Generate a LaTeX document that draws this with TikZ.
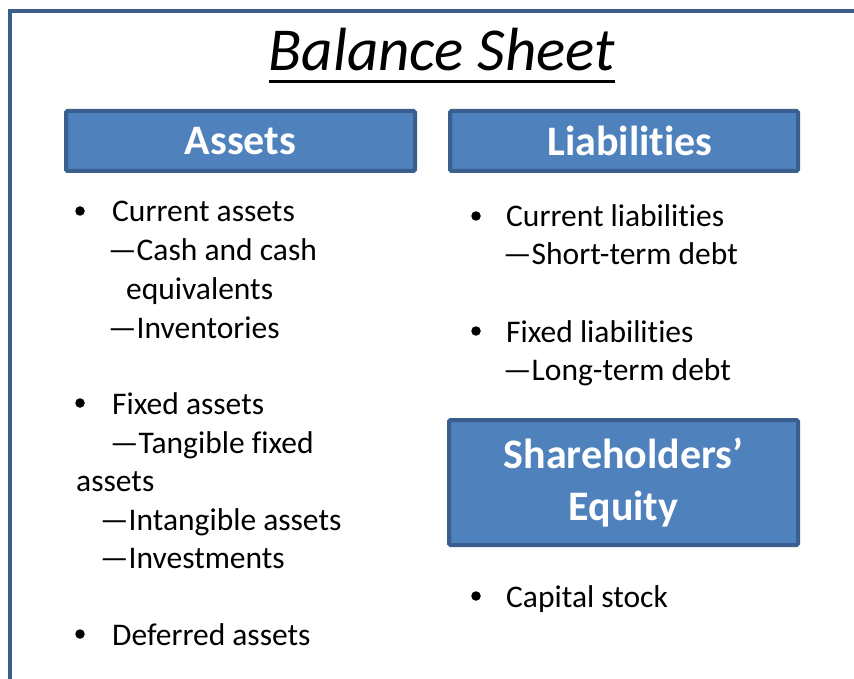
\documentclass[tikz,border=0pt]{standalone}
\usepackage{fontspec}
\setmainfont[Ligatures=NoCommon]{Carlito}
\usetikzlibrary{calc}
\definecolor{framecol}{HTML}{3B5E8C}
\definecolor{boxfill}{HTML}{4F81BD}
\definecolor{boxline}{HTML}{3A5F8F}
\tikzset{
  headbox/.style={draw=boxline, fill=boxfill, line width=4pt, rounded corners=1.5pt,
    text=white, font=\fontsize{42}{52}\selectfont\bfseries, inner sep=0pt, align=center},
  itemtext/.style={anchor=base west, inner sep=0pt, font=\fontsize{31.5}{38}\selectfont},
  bulletdot/.style={circle, fill=black, inner sep=0pt, minimum size=9.5pt},
}

\begin{document}
\begin{tikzpicture}[x=1pt, y=-1pt]
		%%%%% START %%%%%
		\useasboundingbox (0, 0) rectangle (854, 679);
		\clip (0, 0) rectangle (854, 679);
		
		\draw[framecol, line width=4pt] (10, 11) rectangle (900, 700);
		
		\node[anchor=base, inner xsep=0pt, font=\fontsize{61}{64}\selectfont\itshape] (title) at (442, 71) {Balance Sheet};
		\draw[line width=3pt] ([yshift=-11pt]title.base west) -- ([yshift=-11pt]title.base east);
		
		\node[headbox, minimum width=349pt, minimum height=60pt] (assets) at (240.5, 141) {Assets};
		\node[headbox, minimum width=348pt, minimum height=60pt] (liab) at (624, 141) {\hspace*{12pt}Liabilities};
		\node[headbox, minimum width=349pt, minimum height=125pt] (equity) at (623.5, 482.5) {Shareholders’\\Equity};
		
		% assets column
		\node[bulletdot] (b1) at (80, 211) {};
		\node[itemtext] (ca) at (112, 222) {Current assets};
		\node[itemtext] (cash) at (108, 261) {—Cash and cash};
		\node[itemtext] (equiv) at (126, 299) {equivalents};
		\node[itemtext] (inv) at (108, 338) {—Inventories};
		
		\node[bulletdot] (b2) at (80, 403) {};
		\node[itemtext] (fa) at (112, 414) {Fixed assets};
		\node[itemtext] (tang) at (110, 453) {—Tangible fixed};
		\node[itemtext] (tang2) at (76, 491) {assets};
		\node[itemtext] (intang) at (100, 530) {—Intangible assets};
		\node[itemtext] (invest) at (100, 568) {—Investments};
		
		\node[bulletdot] (b3) at (80, 634) {};
		\node[itemtext] (da) at (112, 645) {Deferred assets};
		
		% liabilities column
		\node[bulletdot] (b4) at (476, 216) {};
		\node[itemtext] (cl) at (506, 227) {Current liabilities};
		\node[itemtext] (std) at (503, 265) {—Short-term debt};
		
		\node[bulletdot] (b5) at (476, 331) {};
		\node[itemtext] (fl) at (506, 342) {Fixed liabilities};
		\node[itemtext] (ltd) at (503, 380) {—Long-term debt};
		
		% equity
		\node[bulletdot] (b6) at (476, 596) {};
		\node[itemtext] (cs) at (506, 607) {Capital stock};
		
		%%%%% END %%%%%
\end{tikzpicture}
\end{document}
